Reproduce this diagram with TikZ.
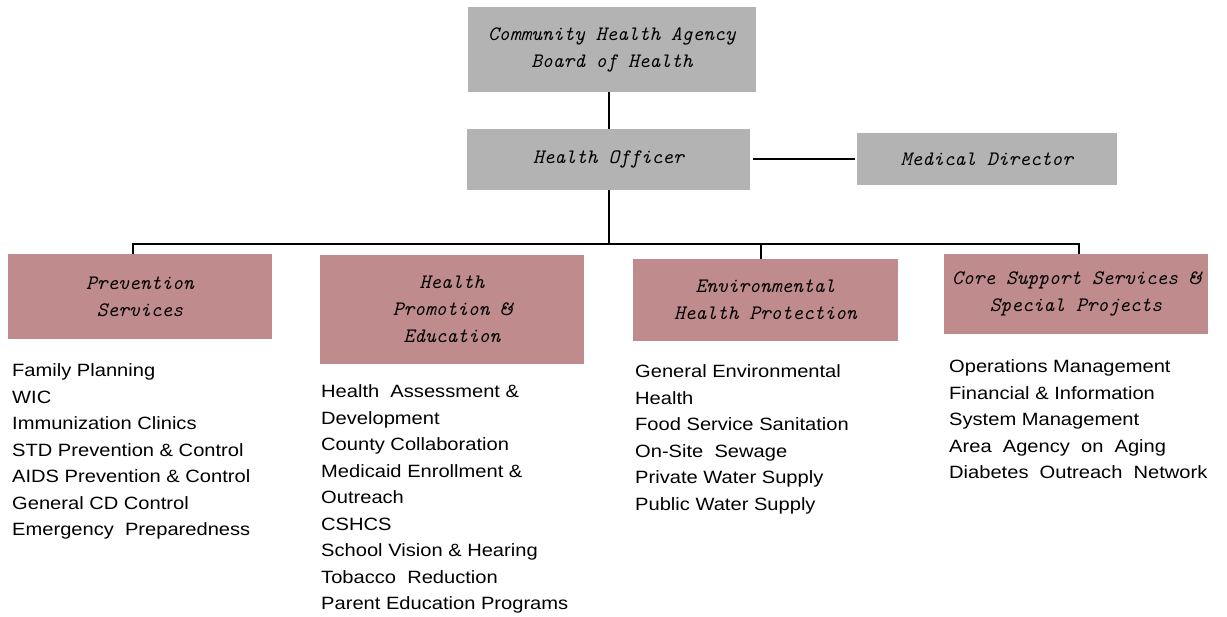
\documentclass[tikz,border=0pt]{standalone}
\usepackage{fontspec}
\setmainfont[FakeStretch=1.13]{Liberation Sans}
\usepackage{tikz}

\definecolor{boxgrey}{RGB}{179,179,179}
\definecolor{boxrose}{RGB}{191,139,141}

\tikzset{
  unitbox/.style={rectangle,inner sep=0pt,align=center,
    font=\fontsize{20.5}{27}\selectfont\ttfamily\itshape},
  greybox/.style={unitbox,fill=boxgrey},
  rosebox/.style={unitbox,fill=boxrose},
  duties/.style={anchor=north west,inner sep=0pt,align=left,
    font=\fontsize{17.8}{26.5}\selectfont},
  link/.style={line width=2pt,black}
}

\begin{document}
\begin{tikzpicture}[x=1pt,y=-1pt]
  \useasboundingbox (0,0) rectangle (1227,617);

  % top of the chart
  \node[greybox,minimum width=288,minimum height=85] (board) at (612,49.5)
    {Community Health Agency\\Board of Health};
  \node[greybox,minimum width=283,minimum height=61] (officer) at (608.5,159.5)
    {Health Officer};
  \node[greybox,minimum width=260,minimum height=52] (director) at (987,159.5)
    {Medical Director};

  % divisions
  \node[rosebox,minimum width=264,minimum height=85] (prev) at (140,296.5)
    {Prevention\\Services};
  \node[rosebox,minimum width=264,minimum height=109] (promo) at (452,309.5)
    {Health\\Promotion \&\\Education};
  \node[rosebox,minimum width=265,minimum height=82] (envi) at (765.5,300)
    {Environmental\\Health Protection};
  \node[rosebox,minimum width=264,minimum height=80] (core) at (1076,294)
    {Core Support Services \&\\Special Projects};

  % programs under each division
  \node[duties] (prevlist) at (12,363.5)
    {Family Planning\\WIC\\Immunization Clinics\\STD Prevention \& Control\\
     AIDS Prevention \& Control\\General CD Control\\Emergency\ \ Preparedness};
  \node[duties] (promolist) at (321,384.5)
    {Health\ \ Assessment \&\\Development\\County Collaboration\\
     Medicaid Enrollment \&\\Outreach\\CSHCS\\School Vision \& Hearing\\
     Tobacco\ \ Reduction\\Parent Education Programs};
  \node[duties] (envilist) at (635,364.5)
    {General Environmental\\Health\\Food Service Sanitation\\On-Site\ \ Sewage\\
     Private Water Supply\\Public Water Supply};
  \node[duties] (corelist) at (949,359.5)
    {Operations Management\\Financial \& Information\\System Management\\
     Area\ \ Agency\ \ on\ \ Aging\\Diabetes\ \ Outreach\ \ Network};

  % connectors
  \coordinate (bus) at (608.5,244);
  \coordinate (dropA) at (133,244);
  \coordinate (dropC) at (761,244);
  \coordinate (dropD) at (1079,244);

  \draw[link] (officer.north) -- (officer.north |- board.south);
  \draw[link,shorten <=3pt,shorten >=2pt] (officer) -- (director);
  \draw[link] (officer.south) -- (bus);
  \draw[link] (prev.north -| dropA) -- (dropA) -- (dropD) -- (core.north -| dropD);
  \draw[link] (dropC) -- (envi.north -| dropC);
\end{tikzpicture}
\end{document}
